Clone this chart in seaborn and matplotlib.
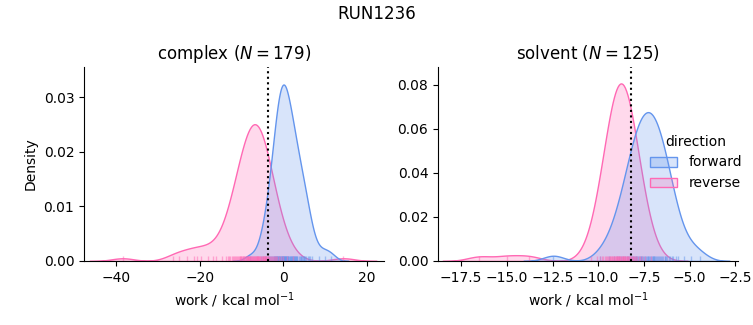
import numpy as np
import pandas as pd
import seaborn as sns
import matplotlib
matplotlib.use("Agg")
import matplotlib.pyplot as plt

# ---------------- data (work values, kcal/mol) ----------------
complex_forward = [
    -7.90, -5.41, -4.79, -4.36, -4.04, -3.76, -3.52, -3.10, -2.93,
    -2.61, -2.46, -2.32, -2.19, -2.07, -1.95, -1.83, -1.72, -1.61, -1.51,
    -1.40, -1.30, -1.20, -1.11, -1.02, -0.92, -0.74, -0.66, -0.58,
    -0.49, -0.41, -0.32, -0.24, -0.15, -0.08, 0.01, 0.08, 0.17, 0.24,
    0.33, 0.40, 0.48, 0.56, 0.65, 0.75, 0.85, 0.95, 1.05, 1.15,
    1.25, 1.46, 1.56, 1.66, 1.87, 1.97, 2.09, 2.19, 2.30,
    2.41, 2.53, 2.65, 2.76, 2.88, 3.01, 3.14, 3.26, 3.40,
    3.82, 3.97, 4.13, 4.30, 4.47, 4.66, 4.85, 5.06, 5.29, 5.54,
    5.82, 6.12, 6.47, 6.89, 8.50, 9.90, 11.40,
]
complex_reverse = [
    -38.4, -26.3, -25.0, -23.1, -21.4, -20.6, -19.6, -18.1, -16.9,
    -16.11, -14.58, -13.77, -13.20, -13.00, -12.75, -12.37, -12.04, -11.75, -11.48, -11.24,
    -11.02, -10.80, -10.61, -10.42, -10.24, -10.20, -10.06, -9.90, -9.74, -9.58, -9.43,
    -9.29, -9.14, -9.01, -8.87, -8.74, -8.60, -8.47, -8.40, -8.35, -8.22,
    -8.10, -7.97, -7.85, -7.73, -7.61, -7.49, -7.37, -7.25, -7.13, -7.02,
    -6.90, -6.78, -6.67, -6.55, -6.43, -6.31, -6.30, -6.19, -6.10, -6.07, -5.95,
    -5.83, -5.70, -5.58, -5.45, -5.33, -5.20, -5.06, -4.93, -4.79, -4.66,
    -4.51, -4.40, -4.37, -4.30, -4.22, -4.06, -3.90, -3.74, -3.56, -3.38, -3.19,
    -3.00, -2.78, -2.56, -2.32, -2.05, -1.76, -1.43, -1.05, -0.60, -0.03,
    0.78, 2.31, 14.4,
]
solvent_forward = [
    -12.45,
    -9.88, -9.41, -9.16, -8.98, -8.84, -8.73, -8.62, -8.53, -8.45, -8.37,
    -8.30, -8.23, -8.16, -8.10, -8.04, -7.98, -7.95, -7.93, -7.88, -7.82,
    -7.77, -7.72, -7.68, -7.63, -7.58, -7.53, -7.48, -7.44, -7.39, -7.35,
    -7.30, -7.25, -7.21, -7.16, -7.12, -7.07, -7.02, -6.98, -6.97, -6.92,
    -6.88, -6.83, -6.78, -6.72, -6.67, -6.62, -6.56, -6.50, -6.44, -6.37,
    -6.33, -6.30, -6.23, -6.15, -6.07, -5.98, -5.88, -5.76, -5.62, -5.30,
    -4.90, -4.45,
]
solvent_reverse = [
    -16.5, -15.0, -13.8,
    -10.38, -10.08, -9.92, -9.81, -9.72, -9.65, -9.58, -9.53, -9.47, -9.42,
    -9.38, -9.33, -9.29, -9.25, -9.22, -9.18, -9.15, -9.11, -9.08, -9.05,
    -9.02, -8.99, -8.96, -8.93, -8.90, -8.87, -8.84, -8.81, -8.78, -8.75,
    -8.72, -8.69, -8.66, -8.63, -8.60, -8.57, -8.54, -8.51, -8.48, -8.45,
    -8.42, -8.39, -8.35, -8.32, -8.28, -8.25, -8.21, -8.17, -8.12, -8.08,
    -8.03, -7.97, -7.92, -7.85, -7.78, -7.69, -7.58, -7.42, -7.12,
]

phases = ["complex", "solvent"]
n_samples = {"complex": 179, "solvent": 125}
free_energy = {"complex": -3.6, "solvent": -8.21}
palette = {"forward": "#6495ED", "reverse": "#FF69B4"}

frames = []
for phase, d, vals in [("complex", "forward", complex_forward),
                       ("complex", "reverse", complex_reverse),
                       ("solvent", "forward", solvent_forward),
                       ("solvent", "reverse", solvent_reverse)]:
    frames.append(pd.DataFrame({"phase": phase, "direction": d, "work": vals}))
df = pd.concat(frames, ignore_index=True)

g = sns.displot(
    data=df, x="work", hue="direction", col="phase", kind="kde",
    fill=True, rug=True, palette=palette,
    hue_order=["forward", "reverse"], col_order=phases,
    rug_kws={"alpha": 0.5},
    facet_kws={"sharex": False, "sharey": False},
)
fig = g.figure
fig.set_size_inches(7.53, 3.25)
fig.set_dpi(100)

xlims = {"complex": (-47.65, 24.1), "solvent": (-18.77, -2.35)}
ylims = {"complex": (0, 0.0355), "solvent": (0, 0.0882)}
for ax, phase in zip(g.axes.flat, phases):
    ax.axvline(free_energy[phase], color="black", linestyle=":", linewidth=1.5)
    ax.set_title(f"{phase} ($N = {n_samples[phase]}$)", fontsize=12)
    ax.set_xlabel("work / kcal mol$^{-1}$")
    ax.set_xlim(*xlims[phase])
    ax.set_ylim(*ylims[phase])
g.axes.flat[0].set_ylabel("Density")
g.axes.flat[1].set_ylabel("")

fig.suptitle("RUN1236", fontsize=12, y=0.985)
fig.subplots_adjust(left=0.1116, right=0.98, top=0.794, bottom=0.197, wspace=0.18)
sns.move_legend(g, "center left", bbox_to_anchor=(0.846, 0.5), frameon=False)

fig.savefig("out.png", dpi=100)
